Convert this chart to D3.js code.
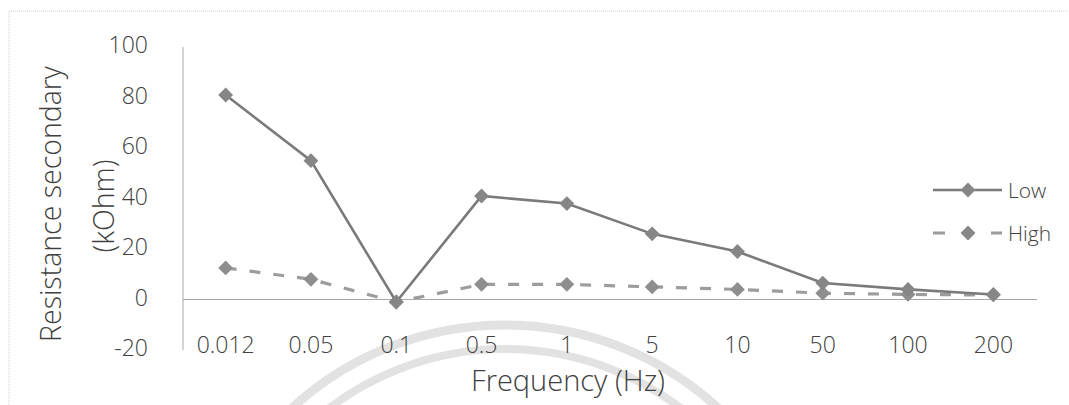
<!DOCTYPE html>
<html><head><meta charset="utf-8">
<script src="https://cdn.jsdelivr.net/npm/d3@7"></script>
<style>body{margin:0;background:#fff}svg{display:block}</style>
</head><body>
<script>
const categories = ["0.012","0.05","0.1","0.5","1","5","10","50","100","200"];
const lowValues  = [81, 55, -1, 41, 38, 26, 19, 6.5, 4, 2];
const highValues = [12.5, 8, -1, 6, 6, 5, 4, 2.5, 2, 1.8];
const yTicks = [-20, 0, 20, 40, 60, 80, 100];
const seriesNames = ["Low", "High"];

const W = 1069, H = 405;
const svg = d3.select("body").append("svg").attr("width", W).attr("height", H);
const font = "'Open Sans', Lato, sans-serif";
const textColor = "#404040";

// watermark arcs
[[315, 9], [291, 8]].forEach(([r, w]) => {
  svg.append("circle").attr("cx", 505).attr("cy", 640).attr("r", r)
    .attr("fill", "none").attr("stroke", "#e2e2e2").attr("stroke-width", w);
});

// frame
svg.append("rect").attr("x", 9).attr("y", 11).attr("width", 1070).attr("height", 420)
  .attr("fill", "none").attr("stroke", "#d0d0d0").attr("stroke-width", 1).attr("stroke-dasharray", "1,1");

const x = d3.scaleBand().domain(categories).range([183, 1036]);
const y = d3.scaleLinear().domain([-20, 100]).range([350, 47]);

// y axis line
svg.append("line").attr("x1", 183).attr("x2", 183).attr("y1", y(100)).attr("y2", y(-20))
  .attr("stroke", "#b8b8b8").attr("stroke-width", 1.2);
// zero line
svg.append("line").attr("x1", 183).attr("x2", 1037).attr("y1", y(0)).attr("y2", y(0))
  .attr("stroke", "#a8a8a8").attr("stroke-width", 1.2);

// y tick labels
svg.append("g").selectAll("text").data(yTicks).join("text")
  .attr("x", 148).attr("y", d => y(d) - 3).attr("text-anchor", "end")
  .attr("dominant-baseline", "central")
  .attr("font-family", font).attr("font-weight", 300).attr("font-size", 23).attr("fill", textColor)
  .text(d => d);

// x tick labels
svg.append("g").selectAll("text").data(categories).join("text")
  .attr("x", d => x(d) + x.bandwidth() / 2).attr("y", 344)
  .attr("text-anchor", "middle").attr("dominant-baseline", "central")
  .attr("font-family", font).attr("font-weight", 300).attr("font-size", 23).attr("fill", textColor)
  .text(d => d);

// axis titles
svg.append("text").attr("transform", "translate(50,204) rotate(-90)")
  .attr("text-anchor", "middle").attr("dominant-baseline", "central")
  .attr("font-family", font).attr("font-weight", 300).attr("font-size", 28.5).attr("fill", textColor)
  .text("Resistance secondary");
svg.append("text").attr("transform", "translate(103,206) rotate(-90)")
  .attr("text-anchor", "middle").attr("dominant-baseline", "central")
  .attr("font-family", font).attr("font-weight", 300).attr("font-size", 28.5).attr("fill", textColor)
  .text("(kOhm)");
svg.append("text").attr("x", 568).attr("y", 379)
  .attr("text-anchor", "middle").attr("dominant-baseline", "central")
  .attr("font-family", font).attr("font-weight", 300).attr("font-size", 29).attr("fill", textColor)
  .text("Frequency (Hz)");

const cx = d => x(d) + x.bandwidth() / 2;
const line = d3.line().x(d => cx(d.c)).y(d => y(d.v));
const lowData = categories.map((c, i) => ({c, v: lowValues[i]}));
const highData = categories.map((c, i) => ({c, v: highValues[i]}));

const diamond = d3.symbol().type(d3.symbolDiamond2).size(140);

// High series (dashed)
svg.append("path").datum(highData).attr("d", line).attr("fill", "none")
  .attr("stroke", "#9c9c9c").attr("stroke-width", 3.2).attr("stroke-dasharray", "11,13");
svg.append("g").selectAll("path").data(highData).join("path")
  .attr("transform", d => `translate(${cx(d.c)},${y(d.v)})`)
  .attr("d", diamond).attr("fill", "#8e8e8e");

// Low series (solid)
svg.append("path").datum(lowData).attr("d", line).attr("fill", "none")
  .attr("stroke", "#7a7a7a").attr("stroke-width", 2.6);
svg.append("g").selectAll("path").data(lowData).join("path")
  .attr("transform", d => `translate(${cx(d.c)},${y(d.v)})`)
  .attr("d", diamond).attr("fill", "#868686");

// legend
const leg = [
  {name: seriesNames[0], yy: 190, dash: null, color: "#7a7a7a", w: 2.6},
  {name: seriesNames[1], yy: 233, dash: "12,46", color: "#9c9c9c", w: 3.2}
];
leg.forEach(l => {
  svg.append("line").attr("x1", 933).attr("x2", 1002).attr("y1", l.yy).attr("y2", l.yy)
    .attr("stroke", l.color).attr("stroke-width", l.w)
    .attr("stroke-dasharray", l.dash);
  svg.append("path").attr("transform", `translate(968,${l.yy})`).attr("d", diamond)
    .attr("fill", "#868686");
  svg.append("text").attr("x", 1008).attr("y", l.yy).attr("dominant-baseline", "central")
    .attr("font-family", font).attr("font-weight", 300).attr("font-size", 21).attr("fill", textColor).text(l.name);
});
</script>
</body></html>
